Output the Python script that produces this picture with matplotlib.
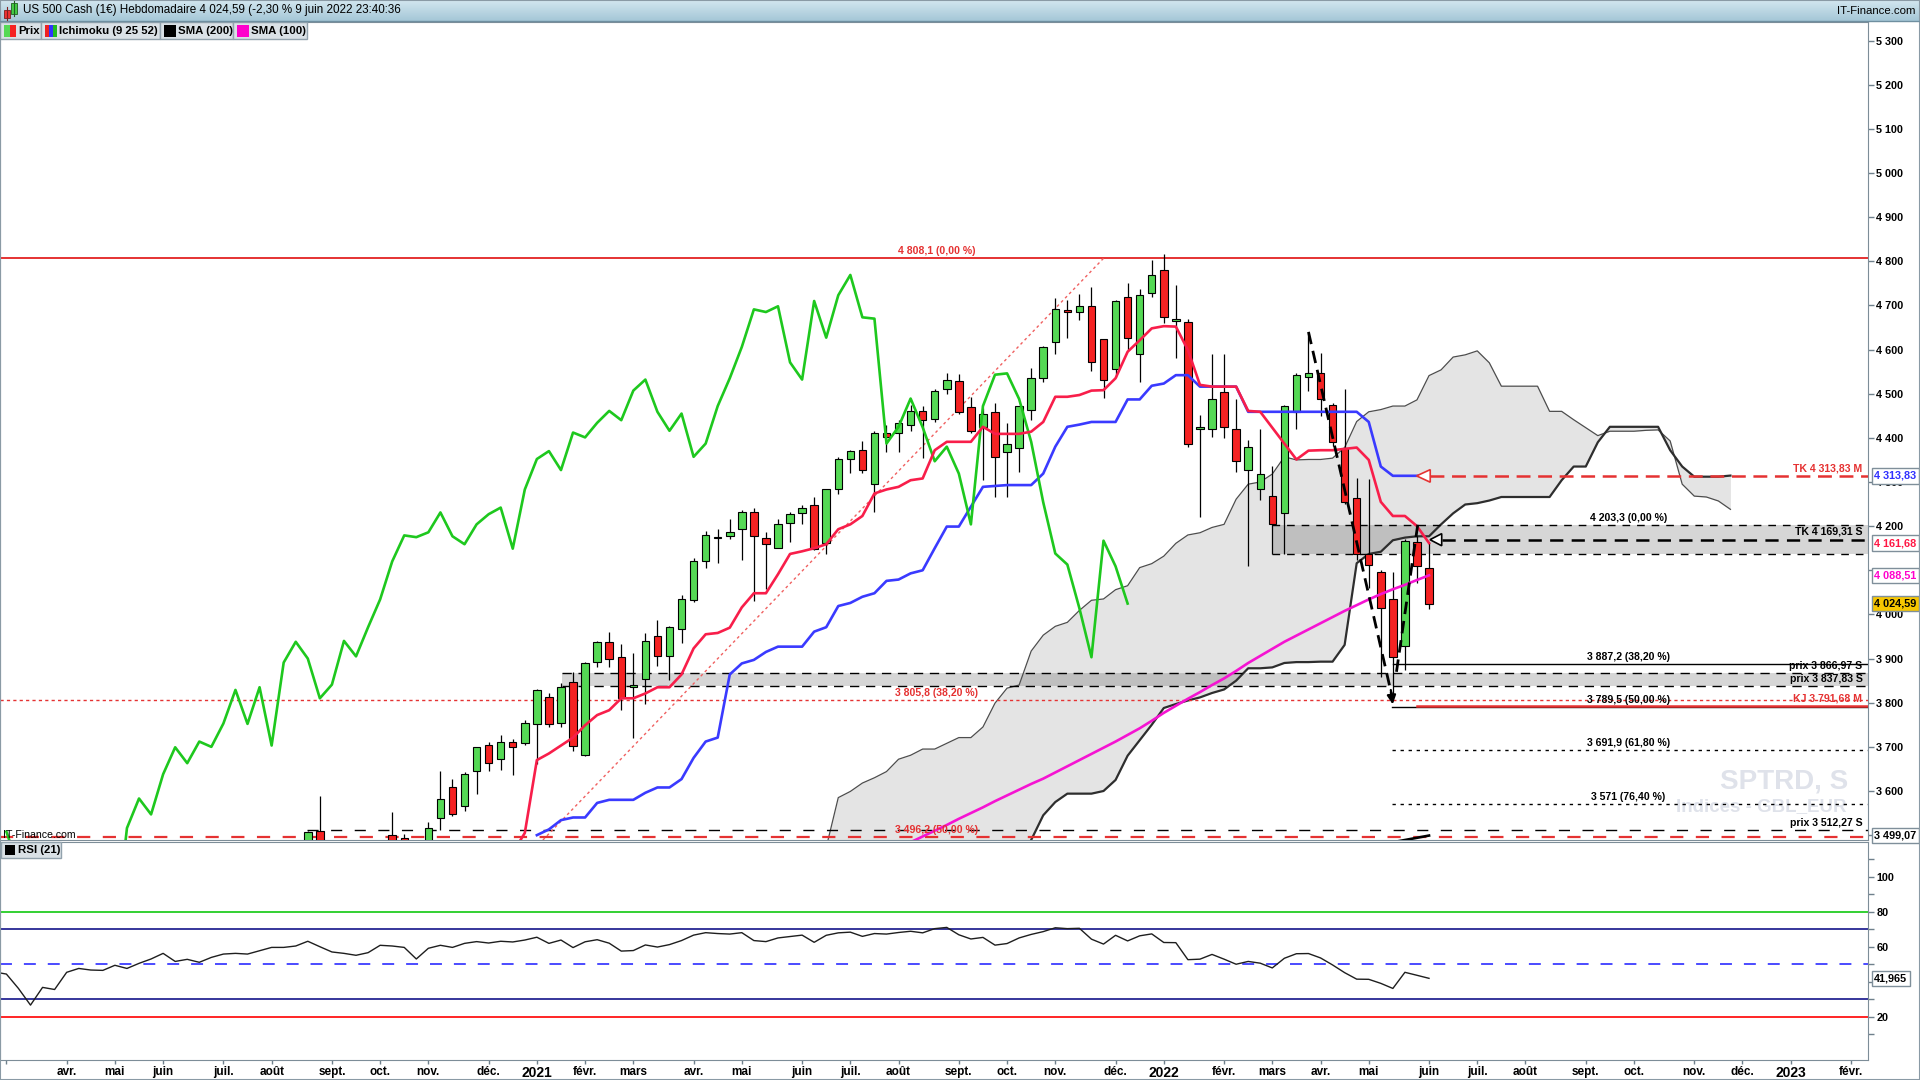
import numpy as np
import pandas as pd
import matplotlib
matplotlib.use("Agg")
import matplotlib.pyplot as plt
from matplotlib.patches import Rectangle, Polygon
from matplotlib.colors import LinearSegmentedColormap

plt.rcParams['font.family'] = ['Liberation Sans', 'DejaVu Sans']
plt.rcParams['lines.scale_dashes'] = False

W, H = 1920, 1080

# semaine 0 = lundi 3 janvier 2022, une bougie par semaine
BASE_DATE = pd.Timestamp('2022-01-03')
x_left, x_right = -96.53, 58.41

# ---------------------------------------------------------------- bougies hebdo
candle_start = -71   # 24 aout 2020
opens = [3418, 3509, 3426, 3363, 3285, 3334, 3367, 3500, 3493, 3441,
         3296, 3539, 3608, 3566, 3645, 3705, 3672, 3712, 3709, 3752,
         3814, 3753, 3846, 3681, 3893, 3938, 3904, 3836, 3853, 3950,
         3905, 3966, 4032, 4121, 4174, 4178, 4193, 4233, 4174, 4150,
         4208, 4229, 4247, 4161, 4283, 4351, 4372, 4296, 4410, 4412,
         4428, 4461, 4442, 4510, 4529, 4469, 4424, 4459, 4369, 4376,
         4464, 4535, 4616, 4689, 4686, 4698, 4625, 4557, 4718, 4591,
         4729, 4781, 4664, 4662, 4419, 4419, 4503, 4421, 4327, 4285,
         4269, 4229, 4459, 4537, 4547, 4474, 4376, 4263, 4138, 4097,
         4036, 3928, 4163, 4106]
highs = [3509, 3588, 3430, 3429, 3320, 3397, 3486, 3552, 3502, 3441,
         3529, 3645, 3628, 3644, 3699, 3712, 3726, 3718, 3760, 3831,
         3823, 3844, 3869, 3893, 3940, 3961, 3934, 3912, 3959, 3987,
         3974, 4045, 4127, 4189, 4193, 4217, 4236, 4242, 4186, 4217,
         4231, 4248, 4267, 4283, 4356, 4372, 4393, 4415, 4429, 4440,
         4475, 4472, 4511, 4548, 4545, 4492, 4467, 4480, 4433, 4472,
         4559, 4608, 4716, 4712, 4726, 4741, 4625, 4712, 4751, 4738,
         4803, 4816, 4746, 4670, 4452, 4591, 4590, 4488, 4395, 4419,
         4336, 4475, 4546, 4637, 4593, 4478, 4510, 4308, 4307, 4100,
         4095, 4170, 4178, 4164]
lows = [3387, 3349, 3330, 3310, 3209, 3323, 3354, 3441, 3424, 3233,
        3279, 3511, 3543, 3555, 3593, 3645, 3647, 3636, 3704, 3662,
        3746, 3746, 3691, 3679, 3881, 3881, 3783, 3721, 3797, 3884,
        3851, 3936, 4029, 4106, 4116, 4170, 4124, 4031, 4058, 4150,
        4165, 4204, 4146, 4137, 4272, 4321, 4321, 4233, 4368, 4368,
        4416, 4355, 4437, 4500, 4455, 4410, 4304, 4266, 4266, 4323,
        4440, 4527, 4591, 4627, 4667, 4552, 4491, 4538, 4599, 4527,
        4720, 4661, 4580, 4380, 4221, 4402, 4399, 4323, 4110, 4260,
        4138, 4138, 4419, 4507, 4450, 4381, 4250, 4124, 4060, 3859,
        3820, 3874, 4072, 4013]
closes = [3508, 3427, 3341, 3319, 3298, 3348, 3477, 3484, 3465, 3270,
          3516, 3583, 3547, 3638, 3699, 3663, 3712, 3700, 3753, 3829,
          3752, 3835, 3703, 3891, 3938, 3900, 3810, 3841, 3940, 3905,
          3971, 4034, 4120, 4179, 4175, 4186, 4231, 4177, 4159, 4204,
          4227, 4242, 4149, 4283, 4352, 4370, 4327, 4412, 4401, 4434,
          4461, 4440, 4507, 4532, 4459, 4416, 4455, 4357, 4387, 4472,
          4535, 4606, 4691, 4685, 4698, 4571, 4532, 4710, 4627, 4723,
          4769, 4673, 4670, 4387, 4425, 4489, 4424, 4347, 4380, 4319,
          4204, 4472, 4543, 4546, 4488, 4391, 4254, 4138, 4113, 4014,
          3903, 4167, 4109, 4024.59]

# ---------------------------------------------------------------- ichimoku (9 25 52)
chikou_shift = 25
tenkan_start = -54
tenkan = [3460, 3505, 3670, 3685, 3703, 3721, 3749, 3772, 3783, 3810,
          3810, 3821, 3835, 3835, 3864, 3923, 3955, 3958, 3970, 4016,
          4048, 4048, 4091, 4137, 4143, 4150, 4159, 4193, 4204, 4223,
          4274, 4283, 4289, 4304, 4308, 4372, 4391, 4391, 4391, 4425,
          4409, 4409, 4409, 4414, 4436, 4493, 4493, 4497, 4507, 4508,
          4535, 4595, 4621, 4648, 4653, 4652, 4599, 4520, 4516, 4516,
          4516, 4461, 4459, 4423, 4387, 4351, 4371, 4372, 4372, 4375,
          4378, 4350, 4255, 4223, 4223, 4200, 4161.68]
kijun_start = -52
kijun = [3500, 3513, 3534, 3540, 3540, 3573, 3580, 3580, 3580, 3596,
         3608, 3608, 3627, 3675, 3712, 3721, 3864, 3889, 3897, 3915,
         3927, 3927, 3927, 3961, 3971, 4019, 4026, 4040, 4048, 4076,
         4079, 4093, 4100, 4150, 4199, 4199, 4244, 4289, 4291, 4293,
         4293, 4293, 4319, 4380, 4425, 4430, 4436, 4436, 4436, 4487,
         4487, 4518, 4523, 4542, 4542, 4516, 4516, 4516, 4516, 4459,
         4459, 4459, 4459, 4459, 4459, 4459, 4459, 4459, 4459, 4436,
         4335, 4314, 4314, 4314, 4313.83]
senkou_start = -28
senkou_a = [3472, 3585, 3599, 3618, 3630, 3644, 3672, 3681, 3695, 3695,
            3708, 3721, 3721, 3745, 3799, 3833, 3840, 3917, 3953, 3973,
            3982, 4009, 4032, 4035, 4056, 4065, 4106, 4115, 4132, 4161,
            4180, 4185, 4197, 4204, 4261, 4295, 4300, 4318, 4357, 4350,
            4351, 4351, 4354, 4378, 4437, 4459, 4464, 4472, 4472, 4486,
            4541, 4554, 4583, 4588, 4597, 4570, 4517, 4517, 4517, 4517,
            4460, 4460, 4441, 4423, 4405, 4415, 4415, 4415, 4417, 4418,
            4393, 4295, 4268, 4266, 4257, 4238]
senkou_b = [2976, 2976, 2976, 2976, 2976, 2980, 2990, 3000, 3010, 3040,
            3070, 3090, 3200, 3300, 3350, 3400, 3440, 3489, 3545, 3575,
            3594, 3594, 3594, 3600, 3625, 3680, 3715, 3750, 3788, 3797,
            3805, 3812, 3822, 3830, 3850, 3878, 3878, 3880, 3890, 3892,
            3892, 3893, 3893, 3931, 4116, 4137, 4142, 4168, 4174, 4177,
            4177, 4204, 4229, 4249, 4252, 4258, 4266, 4266, 4266, 4266,
            4266, 4304, 4335, 4335, 4390, 4425, 4425, 4425, 4425, 4425,
            4372, 4335, 4312, 4312, 4312, 4314.5]

# ---------------------------------------------------------------- moyennes mobiles
sma100_start = -21
sma100 = [3484, 3497, 3510, 3523, 3537, 3550, 3563, 3577, 3590, 3603,
          3616, 3628, 3642, 3656, 3670, 3684, 3698, 3712, 3727, 3742,
          3759, 3777, 3793, 3809, 3824, 3840, 3855, 3872, 3890, 3906,
          3922, 3938, 3952, 3966, 3980, 3994, 4008, 4021, 4034, 4046,
          4057, 4067, 4078, 4088.51]
sma200_start = 19
sma200 = [3484, 3489, 3494, 3499.07]

# ---------------------------------------------------------------- RSI (21)
rsi_start = -97
rsi = [45.6, 44.4, 36.2, 26.7, 36.8, 35.6, 45.4, 47.6, 46.7, 46.5,
       49.4, 47.6, 50.5, 53.0, 56.2, 51.6, 52.8, 51.1, 53.9, 55.8,
       56.2, 55.8, 57.7, 59.6, 59.6, 60.4, 63.1, 60.0, 57.0, 56.2,
       55.1, 56.6, 60.8, 60.4, 59.6, 53.0, 59.1, 60.8, 59.6, 61.9,
       62.9, 62.1, 63.1, 62.7, 63.8, 65.4, 61.9, 63.8, 59.5, 62.8,
       64.0, 62.0, 57.5, 57.8, 61.0, 59.8, 61.2, 63.5, 66.6, 68.0,
       67.5, 67.2, 68.0, 63.5, 62.9, 65.0, 65.8, 66.6, 62.5, 66.5,
       67.9, 68.3, 65.9, 67.5, 67.2, 68.1, 68.8, 67.9, 70.3, 71.0,
       66.8, 64.4, 65.3, 60.9, 61.8, 65.0, 67.0, 68.6, 70.8, 70.3,
       70.5, 64.3, 61.5, 66.5, 63.3, 66.2, 67.3, 62.4, 62.3, 52.6,
       52.9, 55.6, 52.9, 50.0, 51.6, 50.6, 47.9, 53.4, 56.0, 56.1,
       53.6, 49.6, 45.2, 41.5, 41.4, 39.1, 36.2, 45.4, 43.7, 41.965]

# ---------------------------------------------------------------- niveaux traces
fib_red_levels = [4808.1, 3805.8, 3496.2]
fib_red_labels = ['4 808,1 (0,00 %)', '3 805,8 (38,20 %)', '3 496,2 (50,00 %)']
fib_black_levels = [4203.3, 3887.2, 3789.5, 3691.9, 3571.0]
fib_black_labels = ['4 203,3 (0,00 %)', '3 887,2 (38,20 %)', '3 789,5 (50,00 %)',
                    '3 691,9 (61,80 %)', '3 571 (76,40 %)']
prix_levels = [3866.97, 3837.83, 3512.27]
prix_labels = ['prix 3 866,97 S', 'prix 3 837,83 S', 'prix 3 512,27 S']

# graduations cachees sous les etiquettes de valeur
hidden_price_ticks = [3500, 4100]

GREEN = '#55d955'
RED = '#f52222'
TENKAN_C = '#f81e4a'
KIJUN_C = '#3a3aff'
CHIKOU_C = '#1ec81e'
SMA100_C = '#f514d2'
FIB_RED = '#e53232'

fig = plt.figure(figsize=(W / 100, H / 100), dpi=100)
fig.patch.set_facecolor('white')


def fx(px):
    return px / W


def fy(py):
    return 1 - py / H


def frect(x, y, w, h, **kw):
    fig.add_artist(Rectangle((fx(x), fy(y + h)), w / W, h / H, transform=fig.transFigure, **kw))


ax = fig.add_axes([0, fy(840), fx(1868), (840 - 22) / H])
axr = fig.add_axes([0, fy(1060), fx(1868), (1060 - 842) / H], sharex=ax)

# ---- nuage ichimoku
xs = np.arange(senkou_start, senkou_start + len(senkou_a))
ax.fill_between(xs, senkou_a, senkou_b, color='#e4e4e4', lw=0, zorder=1)
ax.plot(xs, senkou_a, color='#4d4d4d', lw=0.9, zorder=2)
ax.plot(xs, senkou_b, color='#2e2e2e', lw=1.6, zorder=2)

# ---- zones grisees (supports)
ax.fill_between([-49.9, x_right + 1], 3837.83, 3866.97, color='black', alpha=0.16, lw=0, zorder=1.5)
ax.fill_between([9.0, x_right + 1], 4138, 4203.3, color='black', alpha=0.16, lw=0, zorder=1.5)

# ---- lignes horizontales
ax.axhline(4808.1, color=FIB_RED, lw=1.4, zorder=2.5)
ax.axhline(3805.8, color=FIB_RED, lw=1.0, dashes=(2.3, 2.3), zorder=2.5)
ax.axhline(3496.2, color=FIB_RED, lw=1.6, dashes=(9.5, 9), zorder=2.5)
ax.plot([-49.9, x_right], [3866.97] * 2, color='black', lw=1.0, dashes=(6.7, 4.8), zorder=2.5)
ax.plot([-49.9, x_right], [3837.83] * 2, color='black', lw=1.0, dashes=(6.7, 4.8), zorder=2.5)
ax.plot([-71.1, x_right], [3512.27] * 2, color='black', lw=1.0, dashes=(8, 9), zorder=2.5)
ax.plot([9.0, x_right], [4203.3] * 2, color='black', lw=1.0, dashes=(5.5, 5), zorder=2.5)
ax.plot([9.0, x_right], [4138] * 2, color='black', lw=1.0, dashes=(5.5, 5), zorder=2.5)
ax.plot([19.0, x_right], [3887.2] * 2, color='black', lw=1.0, zorder=2.5)
ax.plot([18.9, x_right], [3789.5] * 2, color='black', lw=1.0, zorder=2.5)
ax.plot([21.0, x_right], [3791.68] * 2, color=FIB_RED, lw=1.8, zorder=2.6)
ax.plot([18.9, x_right], [3691.9] * 2, color='black', lw=1.0, dashes=(2.4, 3.4), zorder=2.5)
ax.plot([18.9, x_right], [3571.0] * 2, color='black', lw=1.0, dashes=(2.4, 3.4), zorder=2.5)
ax.plot([22.1, x_right], [4313.83] * 2, color=FIB_RED, lw=1.8, dashes=(10, 5.5), zorder=2.6)
ax.plot([23.05, x_right], [4169.31] * 2, color='black', lw=1.8, dashes=(9.5, 6), zorder=2.6)

# diagonale fibo (pointillee rouge)
ax.plot([-51.5, -4.95], [3489, 4808.1], color='#f06060', lw=1.0, dashes=(2, 2.2), zorder=2.5)

# ---- bougies
cx = np.arange(candle_start, candle_start + len(opens))
o = np.array(opens, dtype=float)
c = np.array(closes, dtype=float)
body_col = np.where(c >= o, GREEN, RED)
height = np.where(np.abs(c - o) < 2, 1.5, c - o)
ax.vlines(cx, lows, highs, color='black', lw=0.9, zorder=3)
ax.bar(cx, height, bottom=o, width=0.62, color=body_col, edgecolor='black', linewidth=0.8, zorder=3.2)

# ---- indicateurs
ax.plot(np.arange(sma100_start, sma100_start + len(sma100)), sma100, color=SMA100_C, lw=1.9, zorder=4)
ax.plot(np.arange(sma200_start, sma200_start + len(sma200)), sma200, color='black', lw=1.9, zorder=4)
ax.plot(np.arange(kijun_start, kijun_start + len(kijun)), kijun, color=KIJUN_C, lw=1.9, zorder=4)
ax.plot(np.arange(tenkan_start, tenkan_start + len(tenkan)), tenkan, color=TENKAN_C, lw=1.9, zorder=4.1)
ax.plot(cx - chikou_shift, closes, color=CHIKOU_C, lw=1.9, zorder=4)

# ---- trace en zigzag (tirets noirs + fleche)
ax.plot([12.0, 18.95], [4640, 3812], color='black', lw=2.0, dashes=(9, 5), zorder=5)
ax.annotate('', xy=(19.02, 3790), xytext=(18.8, 3835),
            arrowprops=dict(arrowstyle='-|>', color='black', lw=1.6, mutation_scale=13), zorder=5)
ax.plot([19.3, 21.1], [3870, 4210], color='black', lw=2.0, dashes=(9, 5), zorder=5)

# ---- triangles des niveaux TK
ax.add_patch(Polygon([(20.97, 4313.83), (22.1, 4328), (22.1, 4299.5)], closed=True,
                     fc='white', ec=FIB_RED, lw=1.2, zorder=6))
ax.add_patch(Polygon([(22.08, 4169.31), (23.05, 4183), (23.05, 4155.5)], closed=True,
                     fc='white', ec='black', lw=1.2, zorder=6))

# ---- textes des niveaux
lbl_kw = dict(fontsize=7.6, fontweight='bold', textcoords='offset points', zorder=7)
for lv, t in zip(fib_red_levels, fib_red_labels):
    ax.annotate(t, xy=(-18.84, lv), xytext=(0, 1.5), ha='center', va='bottom', color=FIB_RED, **lbl_kw)
for lv, t in zip(fib_black_levels, fib_black_labels):
    ax.annotate(t, xy=(38.55, lv), xytext=(0, 1.5), ha='center', va='bottom', color='black', **lbl_kw)
for lv, t in zip(prix_levels, prix_labels):
    ax.annotate(t, xy=(1, lv), xycoords=('axes fraction', 'data'), xytext=(-4, 1.5),
                ha='right', va='bottom', color='black', **lbl_kw)
ax.annotate('KJ 3 791,68 M', xy=(1, 3791.68), xycoords=('axes fraction', 'data'), xytext=(-4, 2),
            ha='right', va='bottom', color=FIB_RED, **lbl_kw)
ax.annotate('TK 4 313,83 M', xy=(1, 4313.83), xycoords=('axes fraction', 'data'), xytext=(-4, 2),
            ha='right', va='bottom', color=FIB_RED, **lbl_kw)
ax.annotate('TK 4 169,31 S', xy=(1, 4169.31), xycoords=('axes fraction', 'data'), xytext=(-4, 2),
            ha='right', va='bottom', color='black', **lbl_kw)

# filigrane
ax.text(51.44, 3622, 'SPTRD, S', color='#dfe2ea', fontsize=20, fontweight='bold',
        ha='center', va='center', zorder=0.5)
ax.text(49.57, 3564, 'Indices - GBL_EUR', color='#dfe2ea', fontsize=13.5, fontweight='bold',
        ha='center', va='center', zorder=0.5)

# ---- axes
ax.set_xlim(x_left, x_right)
ax.set_ylim(3489, 5342)
ax.yaxis.tick_right()
yt = list(range(3500, 5301, 100))
ax.set_yticks(yt)
ax.set_yticklabels(['' if v in hidden_price_ticks else f'{v // 1000} {v % 1000:03d}' for v in yt],
                   fontweight='bold')
ax.tick_params(axis='y', direction='out', length=4, width=1, color='#6f808c', labelsize=7.8, pad=2)
ax.tick_params(axis='x', bottom=False, labelbottom=False)
for sp in ax.spines.values():
    sp.set_color('#7d8d98')


def value_box(a, y, txt, color, fc='white'):
    a.annotate(txt, xy=(1, y), xycoords=('axes fraction', 'data'), xytext=(4.5, 0),
               textcoords='offset points', ha='left', va='center', fontsize=7.8, fontweight='bold',
               color=color, annotation_clip=False, zorder=10,
               bbox=dict(boxstyle='square,pad=0.25', fc=fc, ec='#7f8f9a', lw=1))


value_box(ax, 4313.83, '4 313,83', '#3030ff')
value_box(ax, 4161.68, '4 161,68', '#ff1744')
value_box(ax, 4088.51, '4 088,51', '#ff00cc')
value_box(ax, 4024.59, '4 024,59', 'black', fc='#f7c600')
value_box(ax, 3499.07, '3 499,07', 'black')

# ---- panneau RSI
axr.axhline(80, color='#10c810', lw=1.2)
axr.axhline(70, color='#000080', lw=1.1)
axr.axhline(50, color='#1a1aff', lw=1.1, dashes=(8.6, 8.6))
axr.axhline(30, color='#000080', lw=1.1)
axr.axhline(20, color='#ff0000', lw=1.2)
axr.plot(np.arange(rsi_start, rsi_start + len(rsi)), rsi, color='#1e1e1e', lw=1.0)
axr.set_ylim(-4.6, 119.7)
axr.yaxis.tick_right()
axr.set_yticks([20, 40, 60, 80, 100])
axr.set_yticklabels(['20', '', '60', '80', '100'], fontweight='bold')
axr.set_yticks(list(range(10, 120, 20)), minor=True)
axr.tick_params(axis='y', which='both', direction='out', length=4, width=1, color='#6f808c',
                labelsize=7.8, pad=2)
for sp in axr.spines.values():
    sp.set_color('#7d8d98')
value_box(axr, 41.965, '41,965', 'black')

# mois en francais sous le RSI
mois = ['janv.', 'févr.', 'mars', 'avr.', 'mai', 'juin', 'juil.', 'août',
        'sept.', 'oct.', 'nov.', 'déc.']
weeks = np.arange(-96, 59)
dates = BASE_DATE + pd.to_timedelta(weeks * 7, unit='D')
tick_pos, tick_lbl = [], []
for k in range(len(weeks)):
    if k == 0 or dates[k].month != dates[k - 1].month:
        tick_pos.append(weeks[k])
        if k == 0:
            tick_lbl.append('')
        elif dates[k].month == 1:
            tick_lbl.append(str(dates[k].year))
        else:
            tick_lbl.append(mois[dates[k].month - 1])
axr.set_xticks(tick_pos)
axr.set_xticklabels(tick_lbl, fontweight='bold')
axr.tick_params(axis='x', direction='out', length=3, width=1, color='#6f808c', labelsize=8.5, pad=1.5)
for t in axr.get_xticklabels():
    if t.get_text().isdigit():
        t.set_fontsize(10)
axr.set_xlim(x_left, x_right)

# ---- barre de titre
tb = fig.add_axes([0, fy(21), 1, 21 / H])
tb.imshow(np.linspace(0, 1, 32).reshape(-1, 1), aspect='auto', extent=[0, 1, 0, 1],
          cmap=LinearSegmentedColormap.from_list('tb', ['#d2e6ef', '#a5c7d7']))
tb.set_axis_off()
fig.add_artist(plt.Line2D([0, 1], [fy(21), fy(21)], transform=fig.transFigure, color='#6f8fa0', lw=1))
# petite icone chandeliers
fig.add_artist(plt.Line2D([fx(7), fx(7)], [fy(20), fy(7)], transform=fig.transFigure, color='#802020', lw=0.8))
frect(4, 10, 6, 8, fc='#ee3333', ec='#802020', lw=0.6)
fig.add_artist(plt.Line2D([fx(14), fx(14)], [fy(16), fy(1)], transform=fig.transFigure, color='#206020', lw=0.8))
frect(11, 3, 6, 11, fc='#44cc44', ec='#206020', lw=0.6)
fig.text(fx(23), fy(10.5), 'US 500 Cash (1€) Hebdomadaire 4 024,59 (-2,30 % 9 juin 2022 23:40:36',
         fontsize=8.4, va='center', ha='left', color='black')
fig.text(fx(1915), fy(10.5), 'IT-Finance.com', fontsize=8.2, va='center', ha='right', color='black')

# ---- onglets de legende
tabs = [('Prix', 0, 41, [GREEN, RED]),
        ('Ichimoku (9 25 52)', 41, 160, ['#ee2222', '#3333ff', '#22bb22']),
        ('SMA (200)', 160, 233, ['black']),
        ('SMA (100)', 233, 307, ['#ff00cc'])]
for name, x0, x1, cols in tabs:
    frect(x0, 22, x1 - x0, 17, fc='#dae1e6', ec='#92a2ad', lw=1)
    wcol = 12 / len(cols)
    for k, col in enumerate(cols):
        frect(x0 + 4 + k * wcol, 25, wcol, 12, fc=col, ec='none')
    fig.text(fx(x0 + 18), fy(30.5), name, fontsize=8.2, fontweight='bold', va='center', ha='left')

frect(1, 842, 60, 16, fc='#dae1e6', ec='#92a2ad', lw=1)
frect(5, 845, 10, 10, fc='black', ec='none')
fig.text(fx(18), fy(850), 'RSI (21)', fontsize=8.2, fontweight='bold', va='center', ha='left')

fig.text(fx(3), fy(835), 'IT-Finance.com', fontsize=7.6, va='center', ha='left', color='black')

# cadre general
fig.add_artist(Rectangle((0, 0), 1, 1, transform=fig.transFigure, fill=False, ec='#8a9aa5', lw=1.5))

fig.savefig('out.png', dpi=100)
